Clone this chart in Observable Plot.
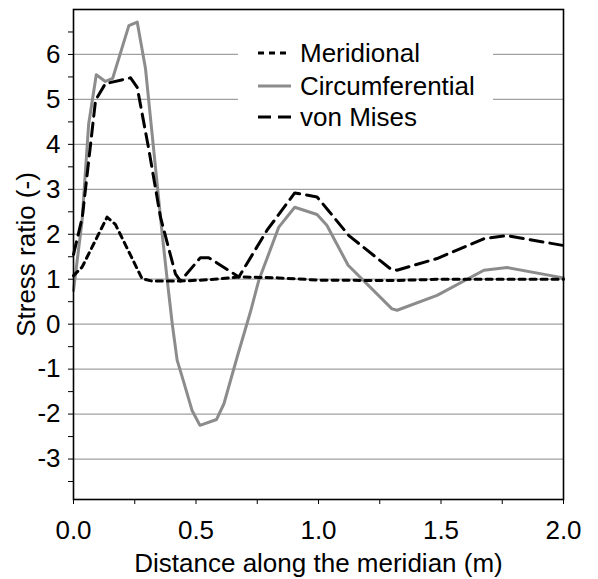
<!DOCTYPE html>
<html>
<head>
<meta charset="utf-8">
<script src="https://cdn.jsdelivr.net/npm/d3@7"></script>
<script src="https://cdn.jsdelivr.net/npm/@observablehq/plot@0.6"></script>
<style>
  html, body { margin: 0; padding: 0; background: white; }
  #wrap { position: relative; width: 598px; height: 579px; }
  #legend { position: absolute; left: 238px; top: 30px; width: 255px; height: 105px; background: white; }
</style>
</head>
<body>
<div id="wrap"><div id="chart"></div><div id="legend"></div></div>
<script>
// Circumferential (grey solid)
const circX = [0, 0.035, 0.062, 0.093, 0.13, 0.16, 0.226, 0.26, 0.294, 0.362, 0.382, 0.403, 0.423, 0.45, 0.484, 0.516, 0.584, 0.614, 0.668, 0.722, 0.756, 0.838, 0.903, 0.994, 1.034, 1.121, 1.30, 1.321, 1.484, 1.675, 1.77, 2.0];
const circY = [0.75, 2.3, 4.46, 5.55, 5.40, 5.47, 6.64, 6.72, 5.68, 2.01, 1.01, 0.01, -0.80, -1.29, -1.92, -2.25, -2.12, -1.77, -0.73, 0.27, 0.97, 2.16, 2.60, 2.44, 2.2, 1.31, 0.34, 0.31, 0.64, 1.20, 1.26, 1.03];
// Meridional (short dash)
const merX = [0, 0.035, 0.137, 0.171, 0.28, 0.32, 0.437, 0.56, 0.675, 0.837, 1.0, 1.3, 1.5, 2.0];
const merY = [1.08, 1.27, 2.38, 2.22, 1.01, 0.96, 0.96, 0.99, 1.05, 1.03, 0.98, 0.97, 1.0, 1.0];
// von Mises (long dash)
const vmX = [0, 0.036, 0.09, 0.13, 0.233, 0.26, 0.308, 0.355, 0.416, 0.437, 0.518, 0.552, 0.675, 0.79, 0.903, 0.994, 1.04, 1.124, 1.294, 1.32, 1.484, 1.675, 1.77, 2.0];
const vmY = [1.55, 2.38, 4.98, 5.35, 5.48, 5.27, 3.87, 2.38, 1.12, 0.96, 1.48, 1.48, 1.05, 2.09, 2.92, 2.83, 2.53, 1.97, 1.23, 1.20, 1.46, 1.90, 1.97, 1.75];

const yGrid = [-3, -2, -1, 0, 1, 2, 3, 4, 5, 6];
const yTicks = [-3.5, -3, -2.5, -2, -1.5, -1, -0.5, 0, 0.5, 1, 1.5, 2, 2.5, 3, 3.5, 4, 4.5, 5, 5.5, 6, 6.5];
const xTicks = [0, 0.25, 0.5, 0.75, 1, 1.25, 1.5, 1.75, 2];
const xLabelTicks = [0, 0.5, 1, 1.5, 2];

const legendItems = ["Meridional", "Circumferential", "von Mises"];

const toRows = (xs, ys) => xs.map((x, i) => ({x, y: ys[i]}));
const circ = toRows(circX, circY);
const mer = toRows(merX, merY);
const vm = toRows(vmX, vmY);

const merDash = "6,5";
const vmDash = "13,7";
const grey = "#8c8c8c";
const font = "'Liberation Sans', Arial, sans-serif";

const chart = Plot.plot({
  width: 598,
  height: 579,
  marginLeft: 73,
  marginRight: 35,
  marginTop: 9,
  marginBottom: 80,
  x: {domain: [0, 2]},
  y: {domain: [-3.9, 7]},
  style: {fontFamily: font, fontSize: "26px", color: "black", background: "white"},
  marks: [
    Plot.gridY(yGrid, {stroke: "#a0a0a0", strokeOpacity: 1, strokeWidth: 1.3}),
    Plot.line(circ, {x: "x", y: "y", stroke: grey, strokeWidth: 3}),
    Plot.line(mer, {x: "x", y: "y", stroke: "black", strokeWidth: 3, strokeDasharray: merDash}),
    Plot.line(vm, {x: "x", y: "y", stroke: "black", strokeWidth: 3, strokeDasharray: vmDash}),
    Plot.frame({stroke: "black", strokeWidth: 1.6}),
    Plot.axisY(yTicks, {tickSize: 5, tickPadding: 8, fontSize: 26, tickFormat: d => Number.isInteger(d) ? String(d) : "",
      label: "Stress ratio (-)", labelAnchor: "center", labelArrow: "none", labelOffset: 57}),
    Plot.axisX(xTicks, {tickSize: 5, tickPadding: 16, fontSize: 26, tickFormat: d => xLabelTicks.includes(d) ? d.toFixed(1) : "",
      label: "Distance along the meridian (m)", labelAnchor: "center", labelArrow: "none", labelOffset: 72})
  ]
});
document.getElementById("chart").appendChild(chart);

// Legend
const styles = [
  {stroke: "black", dash: merDash},
  {stroke: grey, dash: null},
  {stroke: "black", dash: vmDash}
];
const lsvg = d3.select("#legend").append("svg").attr("width", 255).attr("height", 105)
  .style("font-family", font).style("font-size", "26px");
const rowY = [23, 56, 87];
legendItems.forEach((name, i) => {
  const g = lsvg.append("g").attr("transform", `translate(0,${rowY[i]})`);
  const ln = g.append("line").attr("x1", 20).attr("x2", 53).attr("y1", 0).attr("y2", 0)
    .attr("stroke", styles[i].stroke).attr("stroke-width", 3);
  if (styles[i].dash) ln.attr("stroke-dasharray", styles[i].dash);
  g.append("text").attr("x", 62).attr("y", 0).attr("dy", "0.35em").attr("fill", "black").text(name);
});
</script>
</body>
</html>
